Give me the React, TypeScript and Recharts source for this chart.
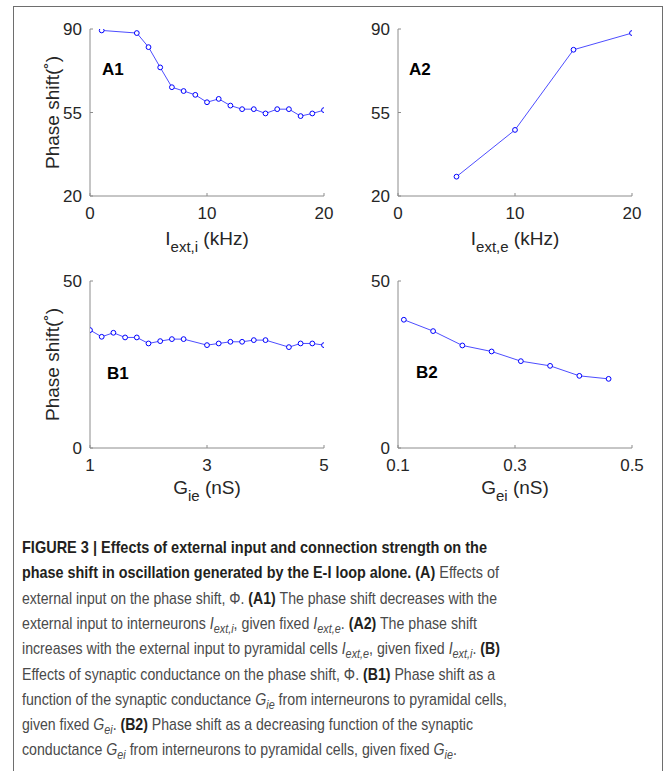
import React from 'react';
import { LineChart, Line, XAxis, YAxis } from 'recharts';

// A1: phase shift vs external input to interneurons
const iExtI = [1, 4, 5, 6, 7, 8, 9, 10, 11, 12, 13, 14, 15, 16, 17, 18, 19, 20];
const phaseA1 = [89.4, 88.3, 82.4, 73.9, 65.6, 64.0, 62.4, 59.3, 60.7, 57.9, 56.4, 56.4, 54.6, 56.4, 56.4, 53.5, 54.6, 56.0];

// A2: phase shift vs external input to pyramidal cells
const iExtE = [5, 10, 15, 20];
const phaseA2 = [28.1, 47.7, 81.3, 88.3];

// B1: phase shift vs G_ie
const gIe = [1.0, 1.2, 1.4, 1.6, 1.8, 2.0, 2.2, 2.4, 2.6, 3.0, 3.2, 3.4, 3.6, 3.8, 4.0, 4.4, 4.6, 4.8, 5.0];
const phaseB1 = [35.3, 33.3, 34.5, 33.1, 33.1, 31.3, 32.0, 32.6, 32.6, 30.8, 31.3, 31.8, 31.8, 32.3, 32.3, 30.2, 31.3, 31.3, 30.8];

// B2: phase shift vs G_ei
const gEi = [0.11, 0.16, 0.21, 0.26, 0.31, 0.36, 0.41, 0.46];
const phaseB2 = [38.4, 35.0, 30.7, 28.9, 26.0, 24.6, 21.6, 20.7];

const ticksA = [0, 10, 20];
const ticksAY = [20, 55, 90];
const ticksB1 = [1, 3, 5];
const ticksB2 = [0.1, 0.3, 0.5];
const ticksBY = [0, 50];

const FONT = '"Liberation Sans", Arial, Helvetica, sans-serif';
const AXIS = '#8c8c8c';
const TXT = '#262626';
const BLUE = '#0000ff';

const toRows = (xs: number[], ys: number[]) => xs.map((x, i) => ({ x, y: ys[i] }));

const XTick = (props: any) => {
    const { x, y, payload } = props;
    return (
        <g>
            <line x1={x} x2={x} y1={y} y2={y - 3} stroke={AXIS} />
            <text x={x} y={y + 23} textAnchor="middle" fontSize={17} fill={TXT} fontFamily={FONT}>{payload.value}</text>
        </g>
    );
};

const YTick = (props: any) => {
    const { x, y, payload } = props;
    return (
        <g>
            <line x1={x} x2={x + 3} y1={y} y2={y} stroke={AXIS} />
            <text x={x - 8} y={y + 6} textAnchor="end" fontSize={17} fill={TXT} fontFamily={FONT}>{payload.value}</text>
        </g>
    );
};

type PanelProps = {
    left: number;
    top: number;
    data: { x: number; y: number }[];
    xDomain: [number, number];
    yDomain: [number, number];
    xTicks: number[];
    yTicks: number[];
    xMain: string;
    xSub: string;
    xUnit: string;
    labelGap: number;
    showYLabel: boolean;
    tag: string;
    tagX: number;
    tagY: number;
};

const W = 340;
const H = 264;
const PL = 90; // plot left inside chart
const PW = 234;
const PT = 29;
const PH = 167;
const YW = 60;
const XH = 40;

const Panel = ({ left, top, data, xDomain, yDomain, xTicks, yTicks, xMain, xSub, xUnit, labelGap, showYLabel, tag, tagX, tagY }: PanelProps) => (
    <div style={{ position: 'absolute', left, top, width: W, height: H }}>
        <LineChart width={W} height={H} data={data} margin={{ top: PT, left: PL - YW, right: W - PL - PW, bottom: H - PT - PH - XH }}>
            <XAxis dataKey="x" type="number" domain={xDomain} ticks={xTicks} height={XH} allowDataOverflow
                axisLine={{ stroke: AXIS }} tickLine={false} tickSize={0} tickMargin={0} tick={<XTick />} interval={0}
                label={{
                    content: (p: any) => {
                        const vb = p.viewBox;
                        const cx = vb.x + vb.width / 2;
                        return (
                            <text x={cx} y={vb.y + labelGap} textAnchor="middle" fontFamily={FONT} fill={TXT} fontSize={19}>
                                <tspan>{xMain}</tspan>
                                <tspan fontSize={15} dy={7}>{xSub}</tspan>
                                <tspan dy={-7}>{' ' + xUnit}</tspan>
                            </text>
                        );
                    },
                }}
            />
            <YAxis type="number" domain={yDomain} ticks={yTicks} width={YW} allowDataOverflow
                axisLine={{ stroke: AXIS }} tickLine={false} tickSize={0} tickMargin={0} tick={<YTick />} interval={0}
                label={showYLabel ? {
                    content: (p: any) => {
                        const vb = p.viewBox;
                        const cy = vb.y + vb.height / 2;
                        const cx = vb.x + vb.width - 31;
                        return (
                            <text x={cx} y={cy} textAnchor="middle" fontFamily={FONT} fill={TXT} fontSize={19}
                                transform={`rotate(-90 ${cx} ${cy})`}>
                                Phase shift(˚)
                            </text>
                        );
                    },
                } : undefined}
            />
            <Line type="linear" dataKey="y" stroke="#4d4dff" strokeWidth={1} isAnimationActive={false}
                dot={{ r: 2.4, stroke: BLUE, strokeWidth: 1, fill: '#ffffff' }} activeDot={false} />
        </LineChart>
        <div style={{ position: 'absolute', left: tagX, top: tagY, fontFamily: FONT, fontWeight: 700, fontSize: 17, color: '#000', lineHeight: 1 }}>{tag}</div>
    </div>
);

type Seg = { t: string; s?: 'b' | 'i' | 'sub' };

const captionLines: Seg[][] = [
    [{ t: 'FIGURE 3 | Effects of external input and connection strength on the', s: 'b' }],
    [{ t: 'phase shift in oscillation generated by the E-I loop alone. (A)', s: 'b' }, { t: ' Effects of' }],
    [{ t: 'external input on the phase shift, Φ. ' }, { t: '(A1)', s: 'b' }, { t: ' The phase shift decreases with the' }],
    [{ t: 'external input to interneurons ' }, { t: 'I', s: 'i' }, { t: 'ext,i', s: 'sub' }, { t: ', given fixed ' }, { t: 'I', s: 'i' }, { t: 'ext,e', s: 'sub' }, { t: '. ' }, { t: '(A2)', s: 'b' }, { t: ' The phase shift' }],
    [{ t: 'increases with the external input to pyramidal cells ' }, { t: 'I', s: 'i' }, { t: 'ext,e', s: 'sub' }, { t: ', given fixed ' }, { t: 'I', s: 'i' }, { t: 'ext,i', s: 'sub' }, { t: '. ' }, { t: '(B)', s: 'b' }],
    [{ t: 'Effects of synaptic conductance on the phase shift, Φ. ' }, { t: '(B1)', s: 'b' }, { t: ' Phase shift as a' }],
    [{ t: 'function of the synaptic conductance ' }, { t: 'G', s: 'i' }, { t: 'ie', s: 'sub' }, { t: ' from interneurons to pyramidal cells,' }],
    [{ t: 'given fixed ' }, { t: 'G', s: 'i' }, { t: 'ei', s: 'sub' }, { t: '. ' }, { t: '(B2)', s: 'b' }, { t: ' Phase shift as a decreasing function of the synaptic' }],
    [{ t: 'conductance ' }, { t: 'G', s: 'i' }, { t: 'ei', s: 'sub' }, { t: ' from interneurons to pyramidal cells, given fixed ' }, { t: 'G', s: 'i' }, { t: 'ie', s: 'sub' }, { t: '.' }],
];
const captionWidths = [465, 477, 475, 455, 478, 473, 485, 451, 435];

const renderSegs = (segs: Seg[]) => {
    let shifted = false;
    return segs.map((sg, i) => {
        let dy = 0;
        if (sg.s === 'sub' && !shifted) { dy = 4; shifted = true; }
        else if (sg.s !== 'sub' && shifted) { dy = -4; shifted = false; }
        const bold = sg.s === 'b';
        return (
            <tspan key={i} dy={dy || undefined}
                fontWeight={bold ? 700 : 400}
                fontStyle={sg.s === 'i' || sg.s === 'sub' ? 'italic' : 'normal'}
                fontSize={sg.s === 'sub' ? 13 : 17}
                fill={bold ? '#231f20' : '#4a4a4a'}>
                {sg.t}
            </tspan>
        );
    });
};

const Caption = () => (
    <svg width={669} height={771} style={{ position: 'absolute', left: 0, top: 0 }}>
        {captionLines.map((segs, i) => (
            <text key={i} x={22} y={553 + i * 25.3} fontFamily={FONT} textLength={captionWidths[i]} lengthAdjust="spacingAndGlyphs">
                {renderSegs(segs)}
            </text>
        ))}
    </svg>
);

export default function App() {
    return (
        <div style={{ position: 'absolute', left: 0, top: 0, width: 669, height: 771, overflow: 'hidden', background: '#fff' }}>
            <div style={{ position: 'absolute', left: 13, top: 6, width: 650, height: 780, border: '1px solid #6e6e6e', boxSizing: 'border-box' }} />
            <Caption />
            <Panel left={0} top={0} data={toRows(iExtI, phaseA1)} xDomain={[0, 20]} yDomain={[20, 90]} xTicks={ticksA} yTicks={ticksAY}
                xMain="I" xSub="ext,i" xUnit="(kHz)" labelGap={49} showYLabel tag="A1" tagX={102} tagY={61} />
            <Panel left={308} top={0} data={toRows(iExtE, phaseA2)} xDomain={[0, 20]} yDomain={[20, 90]} xTicks={ticksA} yTicks={ticksAY}
                xMain="I" xSub="ext,e" xUnit="(kHz)" labelGap={49} showYLabel={false} tag="A2" tagX={101} tagY={61} />
            <Panel left={0} top={252} data={toRows(gIe, phaseB1)} xDomain={[1, 5]} yDomain={[0, 50]} xTicks={ticksB1} yTicks={ticksBY}
                xMain="G" xSub="ie" xUnit="(nS)" labelGap={46} showYLabel tag="B1" tagX={107} tagY={113} />
            <Panel left={308} top={252} data={toRows(gEi, phaseB2)} xDomain={[0.1, 0.5]} yDomain={[0, 50]} xTicks={ticksB2} yTicks={ticksBY}
                xMain="G" xSub="ei" xUnit="(nS)" labelGap={46} showYLabel={false} tag="B2" tagX={108} tagY={112} />
        </div>
    );
}
